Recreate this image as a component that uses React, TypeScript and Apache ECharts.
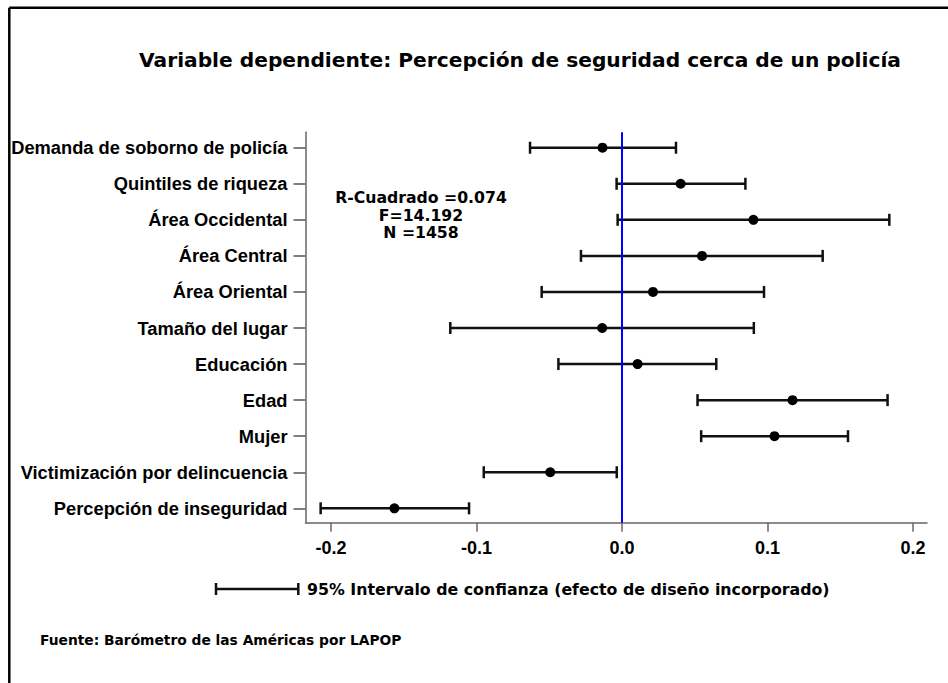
import React, { useEffect, useRef } from "react";
import * as echarts from "echarts";

const categories = [
  "Demanda de soborno de policía",
  "Quintiles de riqueza",
  "Área Occidental",
  "Área Central",
  "Área Oriental",
  "Tamaño del lugar",
  "Educación",
  "Edad",
  "Mujer",
  "Victimización por delincuencia",
  "Percepción de inseguridad",
];
const coefficients = [-0.0134, 0.0403, 0.0903, 0.055, 0.0213, -0.0136, 0.0107, 0.1172, 0.1048, -0.0493, -0.1564];
const lowerBounds = [-0.0632, -0.0037, -0.003, -0.0282, -0.0552, -0.118, -0.0437, 0.0519, 0.0544, -0.095, -0.2071];
const upperBounds = [0.0371, 0.0848, 0.1837, 0.1379, 0.0976, 0.0906, 0.0648, 0.1825, 0.1553, -0.0036, -0.1051];
const xTicks = [-0.2, -0.1, 0.0, 0.1, 0.2];
const statsLines = ["R-Cuadrado =0.074", "F=14.192", "N =1458"];
const titleText = "Variable dependiente: Percepción de seguridad cerca de un policía";
const legendText = "95% Intervalo de confianza (efecto de diseño incorporado)";
const sourceText = "Fuente: Barómetro de las Américas por LAPOP";

const AXIS_FONT = "'Liberation Sans', Arial, sans-serif";
const WIDE_FONT = "'DejaVu Sans', Verdana, sans-serif";

export default function App() {
  const ref = useRef<HTMLDivElement>(null);
  useEffect(() => {
    if (!ref.current) return;
    const chart = echarts.init(ref.current, undefined, { renderer: "svg" });
    const n = categories.length;
    const yTicks = categories.map((_, i) => i);
    const pos = (i: number) => n - 1 - i;

    const errData = categories.map((_, i) => [lowerBounds[i], upperBounds[i], pos(i)]);
    const pointData = categories.map((_, i) => [coefficients[i], pos(i)]);

    const option: any = {
      animation: false,
      backgroundColor: "#fff",
      grid: { left: 305.5, right: 21, top: 132.3, bottom: 160.3, containLabel: false },
      xAxis: {
        type: "value",
        min: -0.2175,
        max: 0.2096,
        axisLine: { show: true, onZero: false, lineStyle: { color: "#666", width: 1.5 } },
        axisTick: { show: true, customValues: xTicks, length: 9, lineStyle: { color: "#666", width: 1.5 } },
        axisLabel: {
          customValues: xTicks,
          formatter: (v: number) => v.toFixed(1),
          fontFamily: AXIS_FONT,
          fontWeight: "bold",
          fontSize: 18,
          color: "#000",
          margin: 16,
        },
        splitLine: { show: false },
      },
      yAxis: {
        type: "value",
        min: -0.399,
        max: 10.427,
        axisLine: { show: true, onZero: false, lineStyle: { color: "#666", width: 1.5 } },
        axisTick: { show: true, customValues: yTicks, length: 12, lineStyle: { color: "#555", width: 1.5 } },
        axisLabel: {
          customValues: yTicks,
          formatter: (v: number) => categories[n - 1 - Math.round(v)] ?? "",
          fontFamily: AXIS_FONT,
          fontWeight: "bold",
          fontSize: 18.3,
          color: "#000",
          margin: 18,
        },
        splitLine: { show: false },
      },
      series: [
        {
          type: "custom",
          data: errData,
          encode: { x: [0, 1], y: 2 },
          z: 3,
          renderItem: (params: any, api: any) => {
            const lo = api.coord([api.value(0), api.value(2)]);
            const hi = api.coord([api.value(1), api.value(2)]);
            const h = 6;
            const style = { stroke: "#111", lineWidth: 2.5 };
            return {
              type: "group",
              children: [
                { type: "line", shape: { x1: lo[0], y1: lo[1], x2: hi[0], y2: hi[1] }, style },
                { type: "line", shape: { x1: lo[0], y1: lo[1] - h, x2: lo[0], y2: lo[1] + h }, style },
                { type: "line", shape: { x1: hi[0], y1: hi[1] - h, x2: hi[0], y2: hi[1] + h }, style },
              ],
            };
          },
        },
        {
          type: "scatter",
          data: pointData,
          symbol: "circle",
          symbolSize: 10,
          itemStyle: { color: "#000", opacity: 1 },
          z: 4,
          markLine: {
            silent: true,
            symbol: ["none", "none"],
            label: { show: false },
            lineStyle: { color: "#0000ff", width: 2, type: "solid" },
            data: [{ xAxis: 0 }],
            z: 5,
          },
        },
      ],
      graphic: [
        { type: "line", shape: { x1: 9.3, y1: 7.8, x2: 948, y2: 7.8 }, style: { stroke: "#000", lineWidth: 2.5 } },
        { type: "line", shape: { x1: 9.3, y1: 7.8, x2: 9.3, y2: 683 }, style: { stroke: "#000", lineWidth: 2.5 } },
        {
          type: "text",
          x: 520,
          y: 60,
          style: {
            text: titleText,
            font: `bold 20.2px ${WIDE_FONT}`,
            fill: "#000",
            textAlign: "center",
            textVerticalAlign: "middle",
          },
        },
        ...statsLines.map((t, i) => ({
          type: "text",
          x: 421,
          y: 197.5 + i * 17.5,
          style: {
            text: t,
            font: `bold 15.7px ${WIDE_FONT}`,
            fill: "#000",
            textAlign: "center",
            textVerticalAlign: "middle",
          },
        })),
        { type: "line", shape: { x1: 216, y1: 589, x2: 298.3, y2: 589 }, style: { stroke: "#111", lineWidth: 2.5 } },
        { type: "line", shape: { x1: 216, y1: 583, x2: 216, y2: 595 }, style: { stroke: "#111", lineWidth: 2.5 } },
        { type: "line", shape: { x1: 298.3, y1: 583, x2: 298.3, y2: 595 }, style: { stroke: "#111", lineWidth: 2.5 } },
        {
          type: "text",
          x: 307,
          y: 589.5,
          style: {
            text: legendText,
            font: `bold 15.8px ${WIDE_FONT}`,
            fill: "#000",
            textAlign: "left",
            textVerticalAlign: "middle",
          },
        },
        {
          type: "text",
          x: 40,
          y: 640,
          style: {
            text: sourceText,
            font: `bold 13.8px ${WIDE_FONT}`,
            fill: "#000",
            textAlign: "left",
            textVerticalAlign: "middle",
          },
        },
      ],
    };
    chart.setOption(option);
    return () => chart.dispose();
  }, []);
  return (
    <div
      ref={ref}
      style={{ position: "absolute", left: 0, top: 0, width: 948, height: 683, background: "#fff" }}
    />
  );
}
